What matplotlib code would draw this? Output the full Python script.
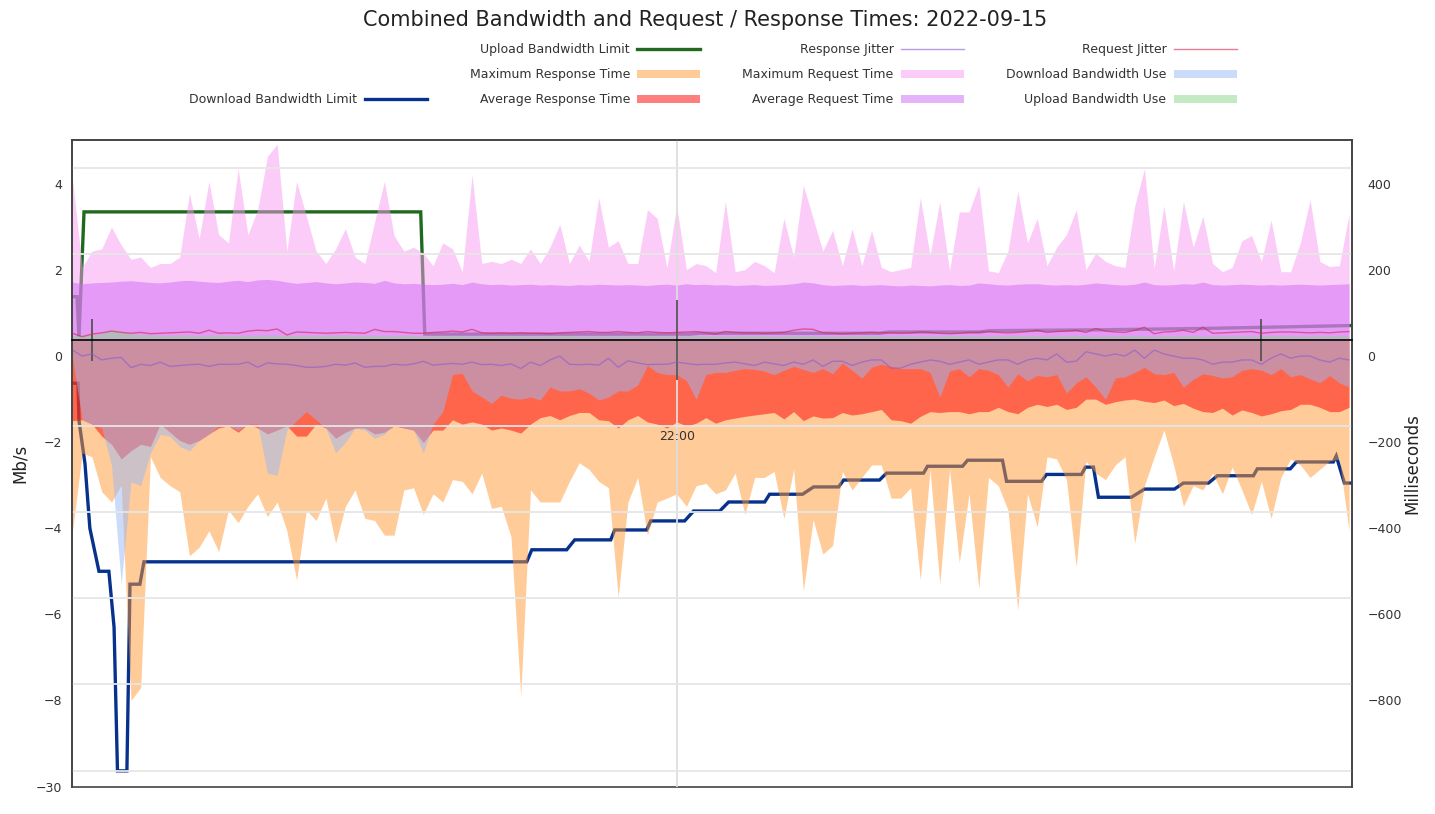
import numpy as np
import matplotlib
matplotlib.use('Agg')
import matplotlib.pyplot as plt
import matplotlib.dates as mdates
from matplotlib.lines import Line2D

START = np.datetime64('2022-09-15T20:58:00')

# one sample per minute from 20:58 (ms on the right axis)
max_request = [410, 206, 244, 249, 300, 258, 225, 230, 206, 215, 215, 230, 378, 273, 406, 282, 263, 435, 282, 340,
               464, 492, 244, 406, 325, 244, 215, 249, 296, 230, 215, 311, 406,
               280, 244, 253, 239, 210, 263, 249, 196, 421, 215, 220, 215, 225, 215, 249, 215, 253, 306, 215, 258,
               220, 368, 253, 268, 215, 215, 340, 320, 206, 349, 201, 215, 210,
               194, 359, 196, 201, 220, 210, 194, 320, 230, 397, 320, 244, 292, 210, 296, 210, 292, 206, 196, 201,
               206, 368, 234, 359, 198, 335, 335, 397, 198, 194, 244, 383, 263,
               320, 210, 253, 282, 340, 201, 239, 220, 210, 206, 349, 435, 204, 349, 198, 359, 253, 325, 215, 196,
               206, 268, 280, 220, 316, 196, 196, 263, 363, 220, 208, 210, 330]
avg_request = [172, 168, 170, 171, 172, 174, 175, 173, 171, 170, 172, 175, 176, 174, 172, 171, 174, 176, 173, 177,
               178, 176, 172, 169, 171, 173, 170, 168, 170, 172, 171, 169, 176,
               170, 168, 169, 167, 166, 167, 169, 166, 172, 168, 166, 167, 165, 166, 167, 165, 166, 165, 164, 166,
               165, 167, 166, 165, 166, 165, 164, 166, 167, 165, 168, 166, 167,
               165, 166, 164, 165, 166, 164, 165, 166, 168, 172, 170, 166, 164, 165, 166, 164, 165, 166, 164, 163,
               165, 164, 163, 165, 166, 164, 165, 170, 168, 166, 165, 167, 168,
               168, 166, 165, 166, 165, 167, 170, 168, 166, 165, 167, 172, 166, 165, 166, 168, 167, 172, 166, 165,
               166, 167, 166, 165, 166, 165, 166, 167, 166, 165, 166, 167, 168]
max_response = [-406, -225, -234, -315, -339, -300, -800, -770, -234, -282, -301, -315, -464, -444, -406, -454, -358,
                -387, -349, -320, -373, -339, -406, -521, -358, -382, -330, -435, -349, -311, -377, -382, -416,
                -416, -311, -306, -368, -320, -339, -287, -291, -320, -272, -354, -349, -420, -790, -311, -339, -339,
                -339, -291, -248, -263, -291, -306, -560, -339, -282, -416, -339, -330, -320, -349, -301, -296,
                -320, -311, -272, -368, -282, -282, -268, -377, -263, -545, -380, -460, -440, -268, -311, -282, -253,
                -253, -330, -330, -306, -520, -263, -530, -263, -480, -320, -540, -282, -301, -358, -590, -320,
                -397, -234, -239, -287, -490, -244, -272, -287, -253, -234, -435, -301, -234, -172, -253, -349, -301,
                -311, -272, -320, -258, -311, -368, -291, -377, -282, -239, -253, -282, -263, -244, -239, -406]
avg_response = [-150, -148, -158, -186, -205, -239, -220, -205, -210, -158, -177, -196, -205, -196, -181, -167, -162,
                -177, -158, -167, -181, -172, -162, -186, -186, -158, -167, -191, -177, -167, -167, -181, -177,
                -162, -167, -172, -201, -172, -172, -148, -158, -153, -158, -172, -167, -172, -179, -158, -143, -138,
                -148, -138, -131, -131, -148, -150, -167, -148, -138, -153, -158, -167, -153, -162, -156, -143,
                -156, -148, -144, -140, -137, -134, -131, -146, -129, -150, -139, -144, -143, -131, -137, -134, -129,
                -124, -148, -150, -156, -140, -129, -131, -129, -129, -134, -129, -129, -119, -129, -134, -119,
                -112, -117, -112, -124, -119, -100, -100, -112, -106, -102, -100, -105, -108, -102, -115, -110, -121,
                -129, -131, -121, -137, -125, -131, -139, -134, -127, -124, -112, -112, -119, -129, -129, -119]
resp_jitter = [14, 0, 5, -9, -5, -3, -27, -19, -22, -14, -24, -22, -20, -19, -24, -19, -19, -19, -14, -26, -16, -18,
               -19, -22, -26, -26, -24, -19, -21, -16, -26, -24, -24,
               -19, -21, -18, -12, -21, -19, -17, -19, -14, -20, -19, -22, -18, -29, -14, -22, -9, 0, -19, -20, -19,
               -21, -5, -26, -11, -16, -20, -19, -19, -14, -17, -20, -19,
               -19, -16, -14, -18, -22, -14, -18, -22, -14, -19, -9, -24, -12, -12, -22, -14, -9, -9, -28, -28, -19,
               -14, -9, -12, -19, -14, -9, -19, -14, -9, -9, -19, -9,
               -5, -9, 5, -14, -12, 10, 5, 0, 5, 0, 14, -5, 14, 5, 0, -5, -5, -9, -19, -14, -14, -9, -9, -19, -5, 5,
               -5, 0, 0, -9, -14, -5, -9]
req_jitter = [53, 45, 51, 54, 58, 55, 53, 55, 52, 53, 54, 55, 56, 53, 60, 53, 54, 53, 58, 60, 59, 63, 49, 56, 55, 54,
              53, 54, 55, 54, 53, 62, 57,
              57, 55, 53, 53, 55, 56, 58, 56, 62, 54, 53, 54, 53, 54, 53, 53, 52, 54, 55, 56, 57, 55, 55, 57, 55, 54,
              57, 55, 54, 55, 56, 57, 54,
              51, 57, 55, 54, 54, 53, 54, 55, 60, 63, 62, 54, 53, 52, 53, 54, 55, 54, 54, 53, 54, 56, 55, 53, 52, 53,
              55, 55, 57, 55, 54, 55, 57,
              60, 55, 57, 58, 60, 55, 64, 58, 56, 55, 60, 67, 52, 56, 57, 60, 55, 67, 53, 54, 55, 56, 57, 53, 55, 56,
              56, 55, 54, 55, 54, 56, 57]

# bandwidth use, Mb/s (left axis)
download_use = [-0.05, -1.48, -1.58, -1.67, -2.53, -5.3, -2.92, -3.01, -2.25, -1.82, -1.86, -2.1, -2.2, -1.96, -1.82,
                -1.62, -1.62, -1.72, -1.58, -1.58, -2.72, -2.77, -1.72, -1.5, -1.29, -1.48, -1.67, -2.25, -2.01,
                -1.67, -1.72, -1.91, -1.82,
                -1.58, -1.67, -1.72, -2.25, -1.58, -1.29, -0.43, -0.40, -0.81, -0.95, -1.10, -0.91, -0.98, -1.00,
                -0.95, -1.02, -0.72, -0.81, -0.81, -0.76, -0.86, -1.02, -0.95, -0.81, -0.81, -0.67, -0.22, -0.38,
                -0.43, -0.43, -0.57, -1.00, -0.43,
                -0.38, -0.38, -0.33, -0.29, -0.31, -0.35, -0.43, -0.33, -0.24, -0.31, -0.38, -0.29, -0.41, -0.16,
                -0.33, -0.51, -0.26, -0.19, -0.24, -0.29, -0.29, -0.29, -0.38, -0.95, -0.35, -0.29, -0.48, -0.29,
                -0.33, -0.43, -0.72, -0.41, -0.57,
                -0.45, -0.48, -0.43, -0.86, -0.62, -0.48, -0.72, -1.00, -0.51, -0.48, -0.38, -0.26, -0.41, -0.43,
                -0.38, -0.72, -0.54, -0.41, -0.45, -0.51, -0.48, -0.33, -0.29, -0.33, -0.43, -0.29, -0.48, -0.43,
                -0.53, -0.62, -0.45, -0.62, -0.72]
upload_use = [0.47, 0.49, 0.50, 0.52, 0.62, 0.58, 0.52, 0.50, 0.49, 0.48, 0.48, 0.49, 0.48, 0.47, 0.48, 0.49, 0.48,
              0.47, 0.48, 0.48, 0.49, 0.48, 0.47, 0.48, 0.48, 0.47, 0.48, 0.49, 0.48, 0.47, 0.48, 0.48, 0.47,
              0.47, 0.48, 0.47, 0.46, 0.47, 0.47, 0.48, 0.47, 0.47, 0.46, 0.47, 0.47, 0.48, 0.47, 0.46, 0.47, 0.47,
              0.47, 0.48, 0.47, 0.46, 0.47, 0.47, 0.47, 0.46, 0.47, 0.48, 0.47, 0.47, 0.46, 0.47, 0.47, 0.47,
              0.47, 0.46, 0.47, 0.47, 0.48, 0.47, 0.46, 0.47, 0.47, 0.48, 0.47, 0.47, 0.46, 0.47, 0.47, 0.47, 0.48,
              0.47, 0.46, 0.47, 0.47, 0.47, 0.46, 0.47, 0.48, 0.47, 0.47, 0.46, 0.47, 0.47, 0.47, 0.48, 0.47,
              0.47, 0.46, 0.47, 0.47, 0.48, 0.47, 0.46, 0.47, 0.47, 0.47, 0.48, 0.47, 0.46, 0.47, 0.47, 0.47, 0.48,
              0.47, 0.46, 0.47, 0.47, 0.47, 0.46, 0.47, 0.48, 0.47, 0.47, 0.46, 0.47, 0.47, 0.47, 0.48, 0.47]

# shaper limits, (minutes after 20:58, Mb/s)
dl_limit_min = [0, 0.56, 0.67, 1.28, 1.79, 2.72, 3.74, 4.26, 4.62, 5.59, 5.9, 6.92, 7.33, 46.62, 47.13, 50.72, 51.54,
                55.23, 55.64, 58.92, 59.33, 62.82, 63.74, 66.41, 67.33, 71.03, 71.54, 74.92, 76.05, 78.62, 79.13,
                82.82, 83.54, 87.33, 87.74, 91.33, 91.85, 95.44, 95.85, 99.44, 99.95, 103.54, 103.95, 104.77,
                105.28, 108.67, 110.0, 113.08, 114.0, 116.56, 117.49, 121.18, 121.59, 124.97, 125.59, 129.38,
                129.69, 130.51, 131.3]
dl_limit_val = [-0.63, -0.63, -1.5, -2.5, -4.0, -5.0, -5.0, -6.3, -26.0, -26.0, -5.3, -5.3, -4.78, -4.78, -4.50,
                -4.50, -4.27, -4.27, -4.04, -4.04, -3.83, -3.83, -3.60, -3.60, -3.39, -3.39, -3.21, -3.21, -3.04,
                -3.04, -2.88, -2.88, -2.72, -2.72, -2.56, -2.56, -2.42, -2.42, -2.91, -2.91, -2.75, -2.75, -2.58,
                -2.58, -3.28, -3.28, -3.09, -3.09, -2.95, -2.95, -2.78, -2.78, -2.62, -2.62, -2.46, -2.46, -2.32,
                -2.95, -2.95]
ul_limit_min = [0, 0.46, 0.67, 1.18, 35.74, 36.15, 63.33, 64.36, 82.82, 83.85, 93.08, 94.1, 105.38, 115.64, 124.87,
                131.3]
ul_limit_val = [1.38, 1.38, 0.45, 3.35, 3.35, 0.51, 0.51, 0.53, 0.53, 0.56, 0.56, 0.59, 0.61, 0.64, 0.68, 0.71]

BASE = 0.37        # baseline of the areas, Mb/s
MS_PER_MB = 100    # right axis: 100 ms per Mb/s
TXT = '#333333'


def minutes(m):
    return START + (np.asarray(m, float) * 60).round().astype(int).astype('timedelta64[s]')


def fwd(y):
    y = np.asarray(y, float)
    return np.where(y >= -8, y, -8 + (y + 8) / 11)


def inv(y):
    y = np.asarray(y, float)
    return np.where(y >= -8, y, -8 + (y + 8) * 11)


t = minutes(np.arange(len(max_request)))
base_ms = BASE * MS_PER_MB

fig = plt.figure(figsize=(14.35, 8.14), dpi=100)
ax = fig.add_axes([72 / 1435, 1 - 786.5 / 814, 1280 / 1435, 646.5 / 814])
ax.set_yscale('function', functions=(fwd, inv))
ax.set_ylim(-30, 5.02)
ax2 = ax.twinx()
ax2.set_ylim(-1000, 502)
ax.set_xlim(minutes(-0.05), minutes(131.3))

# limits under the areas
dl_line, = ax.plot(minutes(dl_limit_min), dl_limit_val, color='#06318c', lw=2.4, solid_joinstyle='miter')
ul_line, = ax.plot(minutes(ul_limit_min), ul_limit_val, color='#1f6a1f', lw=2.4, solid_joinstyle='miter')

mresp = ax2.fill_between(t, base_ms, max_response, color='#ff9933', alpha=0.5, lw=0)
aresp = ax2.fill_between(t, base_ms, avg_response, color='#ff0000', alpha=0.5, lw=0)
mreq = ax2.fill_between(t, base_ms, max_request, color='#fa9af2', alpha=0.5, lw=0)
areq = ax2.fill_between(t, base_ms, avg_request, color='#cd69f5', alpha=0.5, lw=0)
dl_use = ax2.fill_between(t, base_ms, np.array(download_use) * MS_PER_MB, color='#9bb9f7', alpha=0.5, lw=0)
ul_use = ax2.fill_between(t, base_ms, np.array(upload_use) * MS_PER_MB, color='#8bd78b', alpha=0.5, lw=0)
rj, = ax2.plot(t, resp_jitter, color='#8c5ad2', lw=1, alpha=0.6)
qj, = ax2.plot(t, req_jitter, color='#d22850', lw=1, alpha=0.6)

# x axis drawn on the baseline
ax.tick_params(axis='x', which='both', bottom=False, labelbottom=False)
ax2.xaxis.set_visible(True)
ax2.xaxis.set_major_locator(mdates.HourLocator(byhour=[22]))
ax2.xaxis.set_minor_locator(mdates.HourLocator())
ax2.xaxis.set_major_formatter(mdates.DateFormatter('%H:%M'))
ax2.spines['bottom'].set_position(('data', base_ms))
ax2.spines['bottom'].set_color('black')
ax2.spines['bottom'].set_linewidth(1.2)
ax2.tick_params(axis='x', which='major', direction='inout', length=58, width=1.3, color='#555555',
                pad=36, labelsize=9, labelcolor=TXT)
ax2.tick_params(axis='x', which='minor', direction='inout', length=30, width=1.3, color='#555555')
ax2.grid(axis='x', which='major', color='#dddddd', lw=1.3)

ax2.set_yticks([400, 200, 0, -200, -400, -600, -800])
ax2.set_yticks([437, 237, -163, -363, -563, -763, -963], minor=True)
ax2.grid(axis='y', which='minor', color='#e6e6e6', lw=1.3)
ax2.tick_params(axis='y', which='minor', length=0)
ax2.tick_params(axis='y', which='major', length=0, pad=11, labelsize=9, labelcolor=TXT)
ax.set_yticks([4, 2, 0, -2, -4, -6, -8, -30])
ax.tick_params(axis='y', length=0, pad=7, labelsize=9, labelcolor=TXT)

for a in (ax, ax2):
    for side in ('left', 'right', 'top'):
        a.spines[side].set_color('#444444')
        a.spines[side].set_linewidth(1.2)
ax.spines['bottom'].set_color('#444444')
ax.spines['bottom'].set_linewidth(1.2)

ax.set_ylabel('Mb/s', fontsize=12, color='#222222', labelpad=5)
ax2.set_ylabel('Milliseconds', fontsize=12, color='#222222', labelpad=1)

fig.suptitle('Combined Bandwidth and Request / Response Times: 2022-09-15', x=705 / 1435, y=1 - 20 / 814,
             va='center', fontsize=15, color='#222222')

blank = Line2D([], [], color='none')
handles = [blank, blank, dl_line, ul_line, mresp, aresp, rj, mreq, areq, qj, dl_use, ul_use]
labels = ['', '', 'Download Bandwidth Limit', 'Upload Bandwidth Limit', 'Maximum Response Time',
          'Average Response Time', 'Response Jitter', 'Maximum Request Time', 'Average Request Time',
          'Request Jitter', 'Download Bandwidth Use', 'Upload Bandwidth Use']
leg = fig.legend(handles, labels, ncol=4, loc='upper left', bbox_to_anchor=(189 / 1435, 1 - 43.5 / 814),
                 markerfirst=False, frameon=False, fontsize=9, handlelength=5.0, handletextpad=0.6,
                 columnspacing=3.4, labelspacing=0.95, borderaxespad=0, borderpad=0)
for txt in leg.get_texts():
    txt.set_color(TXT)

fig.savefig('out.png', dpi=100)
